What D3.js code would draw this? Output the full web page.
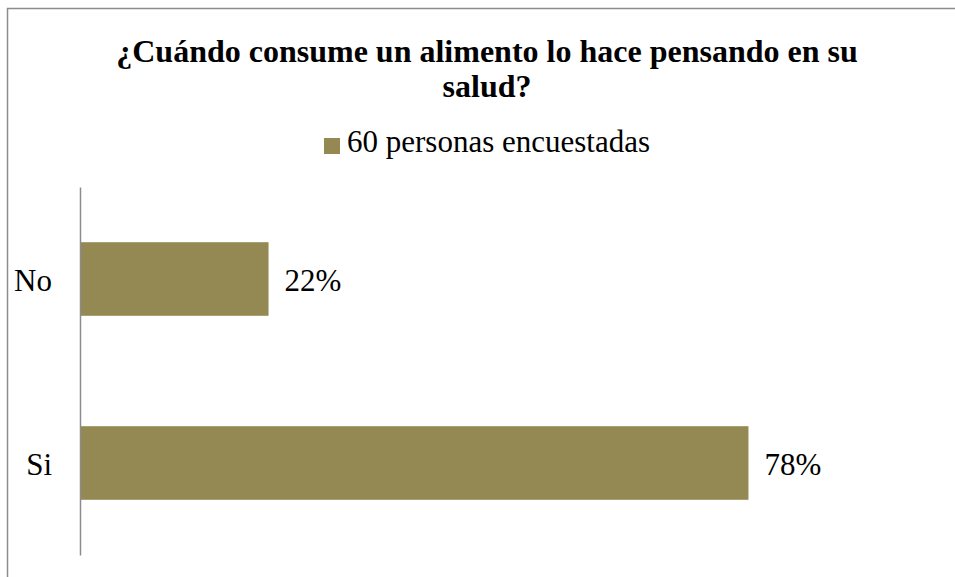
<!DOCTYPE html>
<html>
<head>
<meta charset="utf-8">
<script src="https://cdn.jsdelivr.net/npm/d3@7"></script>
<style>
  body { margin: 0; background: #fff; }
  text { font-family: "Liberation Serif", "DejaVu Serif", serif; fill: #000; }
</style>
</head>
<body>
<svg id="chart"></svg>
<script>
// Data
const categories = ["No", "Si"];
const values = [22, 78];
const valueLabels = ["22%", "78%"];
const seriesName = "60 personas encuestadas";
const titleLines = ["¿Cuándo consume un alimento lo hace pensando en su", "salud?"];

const width = 955;
const height = 577;
const margin = { top: 187, right: 18, bottom: 22, left: 80 };
const barColor = "#948953";
const fontSize = '31px';

const svg = d3.select('#chart')
    .attr('width', width)
    .attr('height', height);

// outer frame (right / bottom edges fall outside the picture)
svg.append('rect')
    .attr('x', 7.5)
    .attr('y', 8.5)
    .attr('width', 960)
    .attr('height', 600)
    .attr('fill', 'none')
    .attr('stroke', '#8c8c8c')
    .attr('stroke-width', 1.5);

// title
svg.append('text')
    .attr('x', 487)
    .attr('y', 62)
    .attr('text-anchor', 'middle')
    .style('font-size', '32px')
    .style('font-weight', 'bold')
    .selectAll('tspan')
    .data(titleLines)
    .enter()
    .append('tspan')
    .attr('x', 487)
    .attr('dy', (d, i) => i === 0 ? 0 : 35)
    .text(d => d);

// legend
const legend = svg.append('g')
    .attr('transform', 'translate(324, 138)');
legend.append('rect')
    .attr('width', 16)
    .attr('height', 16)
    .attr('fill', barColor);
legend.append('text')
    .attr('x', 23)
    .attr('y', 14)
    .style('font-size', fontSize)
    .text(seriesName);

const x = d3.scaleLinear()
    .domain([0, 100])
    .range([margin.left, width - margin.right]);

const y = d3.scaleBand()
    .domain(categories)
    .range([margin.top, height - margin.bottom])
    .paddingInner(0.6)
    .paddingOuter(0.3);

// bars
svg.selectAll('.bar')
    .data(categories)
    .enter()
    .append('rect')
    .attr('class', 'bar')
    .attr('x', x(0))
    .attr('y', d => y(d))
    .attr('width', (d, i) => x(values[i]) - x(0))
    .attr('height', y.bandwidth())
    .attr('fill', barColor);

// value labels
svg.selectAll('.val')
    .data(categories)
    .enter()
    .append('text')
    .attr('class', 'val')
    .attr('x', (d, i) => x(values[i]) + 16)
    .attr('y', d => y(d) + y.bandwidth() / 2)
    .attr('dy', '0.4em')
    .style('font-size', fontSize)
    .text((d, i) => valueLabels[i]);

// y axis
const yAxis = svg.append('g')
    .attr('transform', `translate(${margin.left}, 0)`)
    .call(d3.axisLeft(y).tickSize(0).tickPadding(28));
yAxis.select('.domain')
    .attr('stroke', '#8c8c8c')
    .attr('stroke-width', 1.5);
yAxis.selectAll('text')
    .attr('dy', '0.4em')
    .style('font-size', fontSize)
    .style('font-family', '"Liberation Serif", serif');
</script>
</body>
</html>
